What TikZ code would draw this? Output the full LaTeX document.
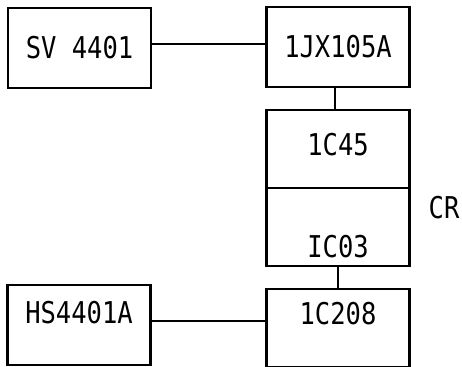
\documentclass[tikz,border=0pt]{standalone}
\usepackage{fontspec}
\newfontfamily\plantfont[FakeStretch=0.85]{DejaVu Sans Mono}
\usetikzlibrary{positioning}

\begin{document}
\begin{tikzpicture}[x=1pt,y=-1pt,
    block/.style={draw, line width=2.4pt, outer sep=0pt, inner sep=0pt,
                  minimum width=143pt, minimum height=78pt},
    tag/.style={font=\plantfont\fontsize{30}{30}\selectfont, inner sep=0pt},
    wire/.style={line width=2.4pt}]
  \useasboundingbox (0,0) rectangle (462,366);
  % left column
  \node[block, tag, minimum height=80pt] (sv) at (79.5,48) {SV 4401};
  \node[block, minimum height=80pt] (hs) at (79,325) {};
  \node[tag] (hstext) at ([yshift=12pt]hs.center) {HS4401A};
  % right column
  \node[block, tag, minimum height=80pt] (jx) at (338,47) {1JX105A};
  \node[block, below=23pt of jx] (c45) {};
  \node[tag] (c45text) at ([yshift=4pt]c45.center) {1C45};
  \node[block, below=0pt of c45] (co3) {};
  \node[tag] (co3text) at ([yshift=-20pt]co3.center) {IC03};
  \node[block, below=23pt of co3] (c208) {};
  \node[tag] (c208text) at ([yshift=14pt]c208.center) {1C208};
  \node[tag] (cr) at (444,208) {CR};
  % connections
  \draw[wire] ([yshift=4pt]sv.east) -- ([yshift=4pt]sv.east -| jx.west);
  \draw[wire] ([xshift=-3pt]jx.south) -- ([xshift=-3pt]c45.north);
  \draw[wire] (co3) -- (c208);
  \draw[wire] ([yshift=4pt]hs.east) -- ([yshift=4pt]hs.east -| c208.west);
\end{tikzpicture}
\end{document}
